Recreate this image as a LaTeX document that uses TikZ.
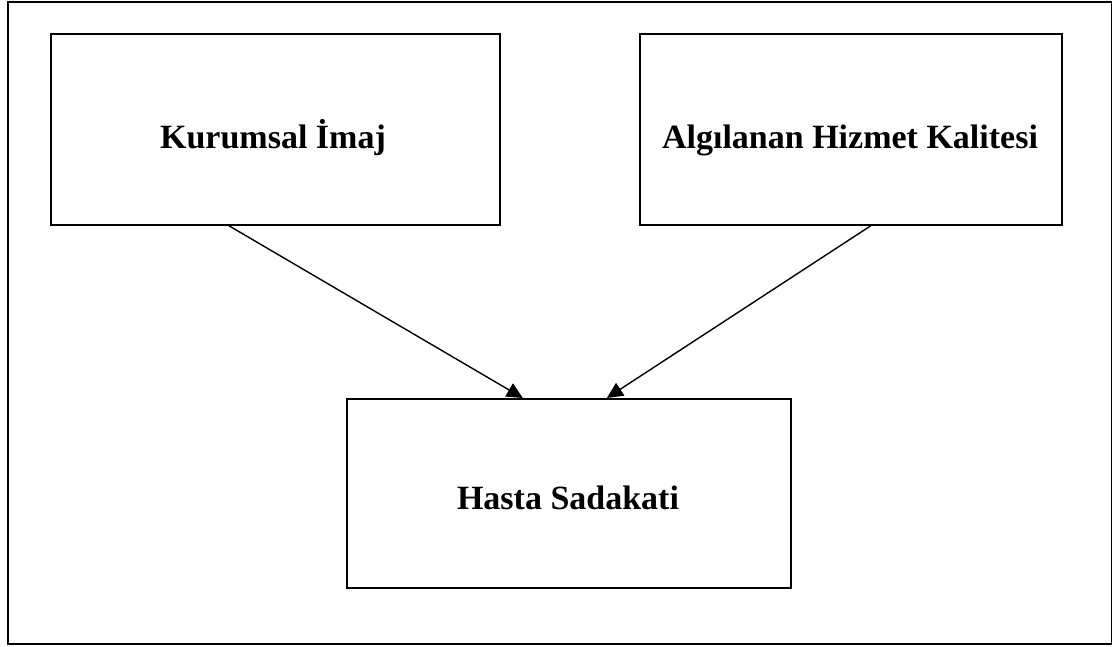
\documentclass[tikz,border=0pt]{standalone}
\usepackage{fontspec}
\setmainfont{Liberation Serif}
\usetikzlibrary{arrows.meta}
\begin{document}
\begin{tikzpicture}[x=1pt,y=-1pt,
  box/.style={draw,line width=1.7pt,inner sep=0pt,rectangle,anchor=north west},
  lbl/.style={font=\fontsize{34}{40}\selectfont\bfseries,anchor=base,inner sep=0pt},
  conn/.style={line width=1.4pt,-{Triangle[length=16pt,width=15pt]}}]
\useasboundingbox (0,0) rectangle (1112,646);
\node[box, minimum width=1104pt, minimum height=642pt] (frame) at (7,1) {};
\node[box, minimum width=449pt, minimum height=191pt] (k) at (50,33) {};
\node[box, minimum width=422pt, minimum height=191pt] (a) at (639,33) {};
\node[box, minimum width=444pt, minimum height=189pt] (h) at (346,398) {};
\node[lbl] (kt) at (273,148) {Kurumsal İmaj};
\node[lbl] (at) at (850,148) {Algılanan Hizmet Kalitesi};
\node[lbl] (ht) at (568,509) {Hasta Sadakati};
\draw[conn] ([xshift=-46.5pt]k.south) -- ([xshift=-46pt]h.north);
\draw[conn] ([xshift=20pt]a.south) -- ([xshift=38pt]h.north);
\end{tikzpicture}
\end{document}
